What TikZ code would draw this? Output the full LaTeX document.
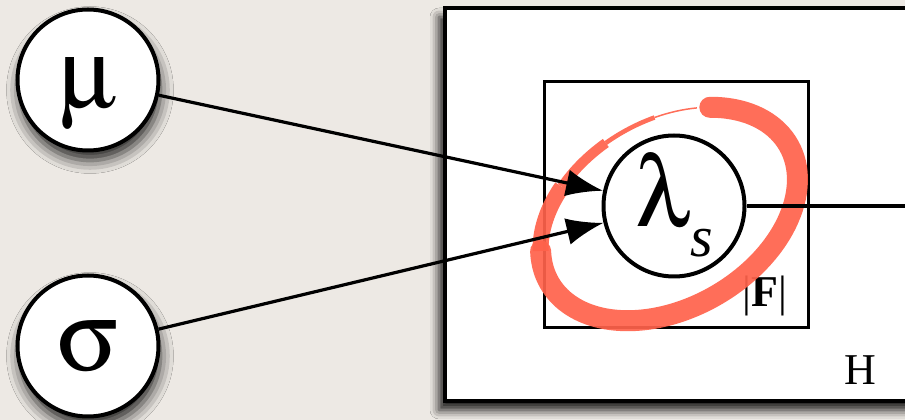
\documentclass[tikz,border=0pt]{standalone}
\usepackage{fontspec}
\setmainfont{Liberation Serif}
\usepackage[Symbol]{upgreek}
\usetikzlibrary{arrows.meta,shadows.blur,positioning}
\definecolor{paper}{HTML}{EDE9E4}
\definecolor{brush}{HTML}{FF624B}
\tikzstyle{var} = [draw, circle, fill=white, line width=4pt, minimum size=141pt, inner sep=0pt, font=\fontsize{100}{100}\selectfont]
\tikzstyle{drop} = [blur shadow={shadow xshift=2pt, shadow yshift=-10pt, shadow blur radius=13pt, shadow opacity=85}]
\tikzstyle{plate} = [draw, rectangle, fill=white, anchor=south west, inner sep=0pt]
\tikzstyle{edge} = [line width=3.2pt]
\tikzstyle{lab} = [inner sep=0pt, font=\fontsize{44}{44}\selectfont]

\begin{document}
\begin{tikzpicture}[x=1pt, y=1pt, >={Latex[length=37pt,width=27pt]}]
    % Paper
    \fill[paper] (0,0) rectangle (905,420);
    \useasboundingbox (0,0) rectangle (905,420);
    \clip (0,0) rectangle (905,420);

    % Plates
    \node [plate, line width=4pt, minimum width=487pt, minimum height=393pt, blur shadow={shadow xshift=-6pt, shadow yshift=-9pt, shadow blur radius=9pt, shadow opacity=90}] (H) at (443,17) {};
    \node [plate, line width=3.2pt, minimum width=264pt, minimum height=246pt] (F) at (543,91) {};
    \node [lab] (Hlab) at (860,50) {H};
    \node [lab] (Flab) at (765,124) {|\textbf{F}|};

    % Variables
    \node [var, drop, text depth=0pt] (mu) at (88,340) {\raisebox{-4pt}{$\upmu$}};
    \node [var, drop] (sigma) at (88,74) {$\upsigma$};
    \node [var] (lam) at (674,214) {$\uplambda$\raisebox{-30pt}{\fontsize{58}{58}\selectfont\itshape s}};
    \coordinate (out) at (910,214);

    % Highlight
    \begin{scope}[shift={(669,206)}, rotate=30, brush, opacity=.92]
        \draw [line width=21pt, line cap=round] (50:138pt and 94pt) arc [start angle=50, end angle=-200, x radius=138pt, y radius=94pt];
        \draw [line width=16pt] (-200:138pt and 94pt) arc [start angle=-200, end angle=-235, x radius=138pt, y radius=94pt];
        \draw [line width=10pt] (-235:138pt and 94pt) arc [start angle=-235, end angle=-262, x radius=138pt, y radius=94pt];
        \draw [line width=4.5pt] (-262:138pt and 94pt) arc [start angle=-262, end angle=-285, x radius=138pt, y radius=94pt];
        \draw [line width=1.5pt] (-285:138pt and 94pt) arc [start angle=-285, end angle=-304, x radius=138pt, y radius=94pt];
    \end{scope}

    % Connections
    \draw [edge, ->] (mu) -- (lam);
    \draw [edge, ->] (sigma) -- (lam);
    \draw [edge] (lam) -- (out);
\end{tikzpicture}
\end{document}
